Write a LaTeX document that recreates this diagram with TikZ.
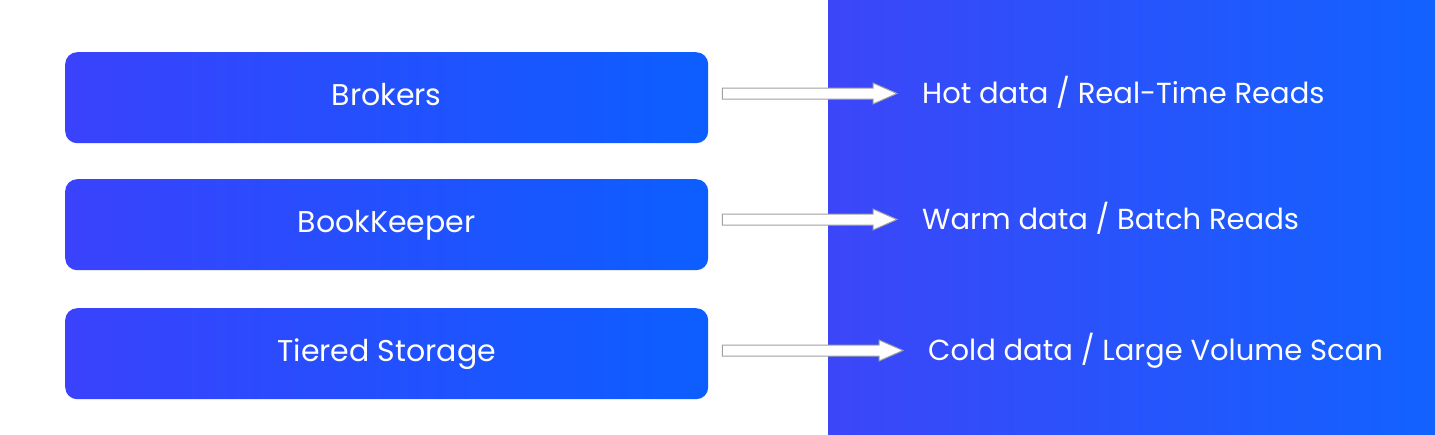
\documentclass[tikz,border=0pt]{standalone}
\usepackage{fontspec}
\setmainfont{Poppins}
\usetikzlibrary{calc}
\definecolor{boxL}{RGB}{58,66,252}
\definecolor{boxR}{RGB}{12,94,255}
\definecolor{panL}{RGB}{60,70,248}
\definecolor{panR}{RGB}{18,98,255}
\definecolor{edge}{RGB}{160,160,160}
\tikzset{
  layer/.style={rounded corners=12pt, left color=boxL, right color=boxR,
    minimum width=643pt, minimum height=91pt, anchor=north west, inner sep=0pt,
    text=white, font=\fontsize{30}{34}\selectfont, text height=16pt, text depth=0pt},
  use/.style={anchor=base west, inner sep=0pt, text=white,
    font=\fontsize{29}{33}\selectfont},
  fat/.style={draw=edge, line width=1pt, fill=white, line join=miter}
}
\newcommand\fatarrow[2]{%
  \coordinate (s#1) at ($([xshift=14pt]#2.east |- t#1.base west)+(0,9.5)$);
  \coordinate (e#1) at ($(t#1.base west)+(-25,9.5)$);
  \draw[fat] ($(s#1)+(0,5.5)$) -- ($(e#1)+(-24,5.5)$) -- ($(e#1)+(-24,10.5)$) -- (e#1)
    -- ($(e#1)+(-24,-10.5)$) -- ($(e#1)+(-24,-5.5)$) -- ($(s#1)+(0,-5.5)$) -- cycle;}
\begin{document}
\begin{tikzpicture}[x=1pt,y=1pt]
\useasboundingbox (0,0) rectangle (1435,-434);
\fill[white] (0,0) rectangle (1435,-434);
\shade[left color=panL, right color=panR] (828,0) rectangle (1435,-434);
\node[layer] (b1) at (65,-52) {Brokers};
\node[layer] (b2) at (65,-179) {BookKeeper};
\node[layer] (b3) at (65,-308) {Tiered Storage};
\node[use] (t1) at (922,-103) {Hot data / Real-Time Reads};
\node[use] (t2) at (922,-229) {Warm data / Batch Reads};
\node[use] (t3) at (928,-360) {Cold data / Large Volume Scan};
\fatarrow{1}{b1}
\fatarrow{2}{b2}
\fatarrow{3}{b3}
\end{tikzpicture}
\end{document}
